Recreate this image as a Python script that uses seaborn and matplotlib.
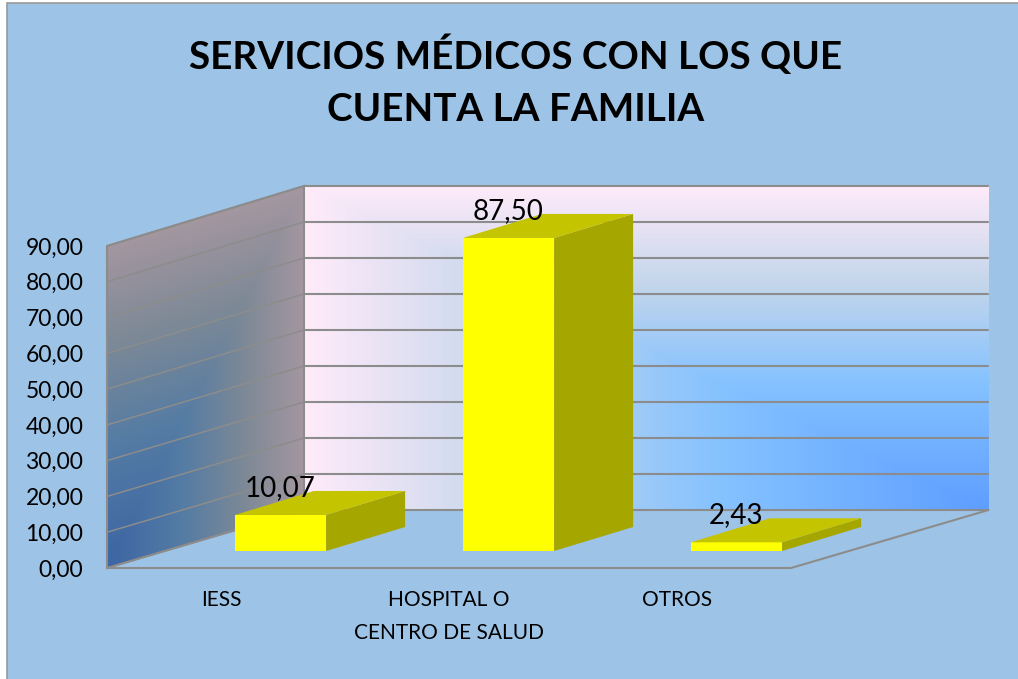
import numpy as np
import matplotlib
matplotlib.use('Agg')
import matplotlib.pyplot as plt
from matplotlib.colors import LinearSegmentedColormap
from matplotlib.patches import Polygon, Rectangle
import seaborn as sns

categorias = ['IESS', 'HOSPITAL O\nCENTRO DE SALUD', 'OTROS']
valores = [10.07, 87.50, 2.43]
ticks_y = [0, 10, 20, 30, 40, 50, 60, 70, 80, 90]
titulo = 'SERVICIOS MÉDICOS CON LOS QUE\nCUENTA LA FAMILIA'

W, H = 1018, 679
AZUL = '#9DC3E6'
GRIS = '#8C8C8C'


def coma(v):
    return f'{v:.2f}'.replace('.', ',')


def caja(x0, x1, y_sup, y_inf):
    # rectangulo en pixeles (origen arriba) -> fraccion de figura
    return [x0 / W, 1 - y_inf / H, (x1 - x0) / W, (y_inf - y_sup) / H]


sns.set_theme(style='white')
plt.rcParams['font.family'] = ['Lato', 'DejaVu Sans']

fig = plt.figure(figsize=(W / 100, H / 100), dpi=100, facecolor='white')

#------------------------------------------------------
#                 Fondo, paredes y piso
#------------------------------------------------------
ax_bg = fig.add_axes([0, 0, 1, 1])
ax_bg.set_axis_off()
ax_bg.add_patch(Rectangle((7, 3), W + 10, H + 10, facecolor=AZUL, edgecolor='#9A9A9A', lw=1.2, zorder=1))

degradado = LinearSegmentedColormap.from_list(
    'pared', [(0, '#5E9EFF'), (0.39, '#85C2FF'), (0.7, '#C4D6EB'), (1, '#FFEBFA')])

# pared del fondo: degradado desde la esquina inferior derecha
xx, yy = np.meshgrid(np.linspace(1, 0, 350), np.linspace(1, 0, 330))
ax_bg.imshow(np.maximum(xx, yy), cmap=degradado, extent=(304, 988.5, 510, 186), aspect='auto',
             vmin=0, vmax=1, zorder=2)

# pared izquierda: mismo degradado mas oscuro, siguiendo la perspectiva
u, s = np.meshgrid(np.linspace(0, 1, 200), np.linspace(186, 568, 380))
v = (568 - 58 * u - s) / 322
colores = degradado(np.clip(np.maximum(u, v), 0, 1)) * np.array([0.64, 0.64, 0.64, 1])
img = ax_bg.imshow(colores, extent=(107, 304, 568, 186), aspect='auto', zorder=2)
pared = Polygon([(107, 246), (304, 186), (304, 510), (107, 568)], closed=True,
                facecolor='none', edgecolor=GRIS, lw=1.5, zorder=3)
ax_bg.add_patch(pared)
img.set_clip_path(pared)

# lineas de division
for tick in ticks_y:
    y_frente = 568 - tick * 322 / 90
    y_atras = 510 - tick * 3.6
    ax_bg.plot([107, 304], [y_frente, y_atras], color=GRIS, lw=1.1, zorder=3)
    ax_bg.plot([304, 988.5], [y_atras, y_atras], color=GRIS, lw=1.5, zorder=3)

# contorno del piso
ax_bg.plot([107, 791, 988.5], [568, 568, 510], color=GRIS, lw=1.5, zorder=3)
ax_bg.set_xlim(0, W)
ax_bg.set_ylim(H, 0)

#------------------------------------------------------
#           Ejes (solo etiquetas) y barras
#------------------------------------------------------
ax_ejes = fig.add_axes(caja(107, 791, 246, 568), facecolor='none')
ax_ejes.set_xlim(-0.5, 2.5)
ax_ejes.set_ylim(0, 90)
ax_ejes.set_yticks(ticks_y, [coma(v) for v in ticks_y])
ax_ejes.set_xticks(range(len(categorias)), categorias, linespacing=1.78)
ax_ejes.tick_params(axis='y', length=0, pad=17, labelsize=16.5, labelcolor='black')
ax_ejes.tick_params(axis='x', length=0, pad=16, labelsize=15, labelcolor='black')
sns.despine(ax=ax_ejes, left=True, bottom=True)

ax_barras = fig.add_axes(caja(107 + 59.5, 791 + 59.5, 246 - 17, 568 - 17), facecolor='none')
sns.barplot(x=categorias, y=valores, color='#FFFF00', saturation=1, width=0.4, linewidth=0,
            edgecolor='none', ax=ax_barras)
ax_barras.set_xlim(-0.5, 2.5)
ax_barras.set_ylim(0, 90)
ax_barras.set_axis_off()

# caras lateral y superior de cada barra
dx = 79 / 228
dy = 24 * 90 / 322
for barra in ax_barras.containers[0]:
    x0 = barra.get_x()
    x1 = x0 + barra.get_width()
    alto = barra.get_height()
    ax_barras.add_patch(Polygon([(x1, 0), (x1 + dx, dy), (x1 + dx, alto + dy), (x1, alto)],
                                closed=True, facecolor='#A6A600', edgecolor='none', clip_on=False))
    ax_barras.add_patch(Polygon([(x0, alto), (x0 + dx, alto + dy), (x1 + dx, alto + dy), (x1, alto)],
                                closed=True, facecolor='#C4C400', edgecolor='none', clip_on=False))

ax_barras.bar_label(ax_barras.containers[0], labels=[coma(v) for v in valores],
                    padding=10, fontsize=20, color='black', zorder=5)

fig.text(515.5 / W, 1 - 81 / H, titulo, ha='center', va='center', fontsize=27.8, fontweight='bold',
         color='black', linespacing=1.6)

fig.savefig('out.png', dpi=100)
